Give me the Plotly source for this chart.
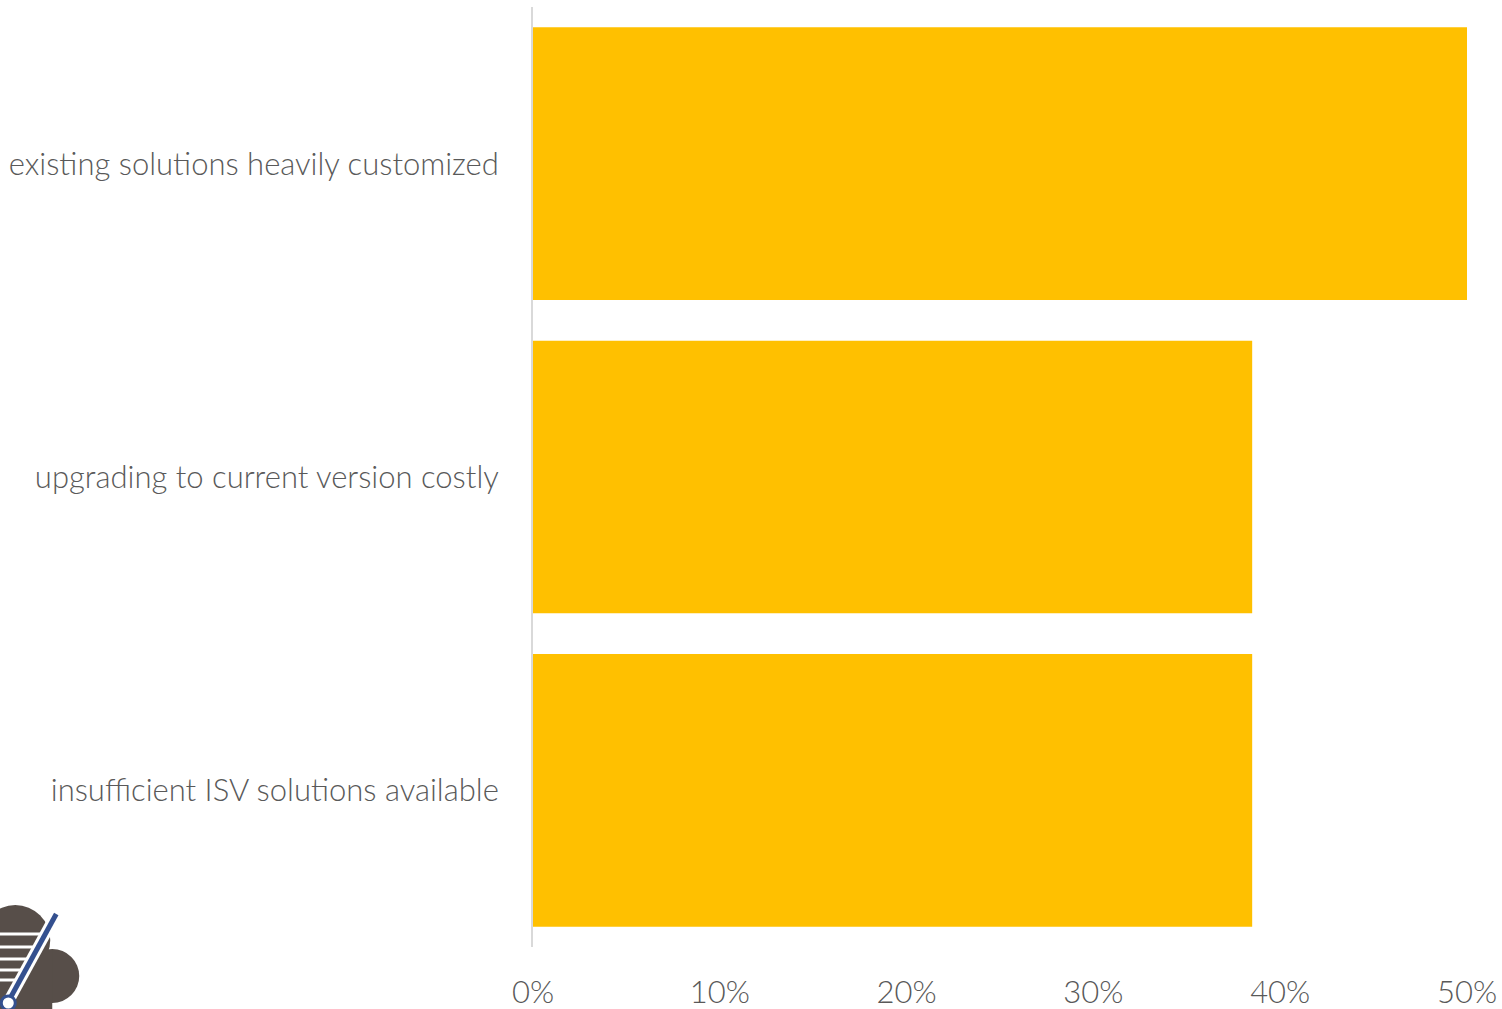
import plotly.graph_objects as go

# Survey responses: reasons for staying on the current solution
categories = [
    "existing solutions heavily customized",
    "upgrading to current version costly",
    "insufficient ISV solutions available",
]
shares = [0.50, 0.385, 0.385]

tick_vals = [0, 0.1, 0.2, 0.3, 0.4, 0.5]
tick_text = ["0%", "10%", "20%", "30%", "40%", "50%"]

W, H = 1502, 1009
L, R, T, B = 533, 34.5, 7, 62

fig = go.Figure(
    go.Bar(
        y=categories,
        x=shares,
        orientation="h",
        marker=dict(color="#FFC000", line=dict(width=0)),
        hoverinfo="skip",
    )
)

label_font = dict(family="Lato, Open Sans, sans-serif", size=31, color="#595959", weight=300)

fig.update_layout(
    width=W,
    height=H,
    margin=dict(l=L, r=R, t=T, b=B),
    paper_bgcolor="white",
    plot_bgcolor="white",
    bargap=0.13,
    showlegend=False,
    xaxis=dict(
        range=[0, 0.5],
        tickvals=tick_vals,
        ticktext=tick_text,
        showgrid=False,
        zeroline=False,
        showline=False,
        ticks="",
        tickfont=label_font,
        ticklabelstandoff=24,
        automargin=False,
    ),
    yaxis=dict(
        categoryorder="array",
        categoryarray=categories[::-1],
        showgrid=False,
        zeroline=False,
        showline=True,
        linecolor="#D9D9D9",
        linewidth=2,
        ticks="",
        tickfont=label_font,
        ticklabelstandoff=26,
        automargin=False,
    ),
)


# Helpers converting pixel positions to paper coordinates for the logo
def px(x):
    return (x - L) / (W - L - R)


def py(y):
    return (H - B - y) / (H - T - B)


shapes = []
cloud = "#574E49"
# cloud lobes
shapes.append(dict(type="circle", xref="paper", yref="paper",
                   x0=px(-20), x1=px(50), y0=py(975), y1=py(905),
                   fillcolor=cloud, line=dict(width=0), layer="above"))
shapes.append(dict(type="circle", xref="paper", yref="paper",
                   x0=px(25), x1=px(79), y0=py(1003), y1=py(949),
                   fillcolor=cloud, line=dict(width=0), layer="above"))
shapes.append(dict(type="rect", xref="paper", yref="paper",
                   x0=px(-5), x1=px(52), y0=py(1012), y1=py(950),
                   fillcolor=cloud, line=dict(width=0), layer="above"))
# white stripes
for yy, xe in [(934, 40), (947, 36), (959, 30), (970, 24), (980, 18)]:
    shapes.append(dict(type="line", xref="paper", yref="paper",
                       x0=px(-2), x1=px(xe), y0=py(yy), y1=py(yy),
                       line=dict(color="white", width=3), layer="above"))
# pen with white outline
shapes.append(dict(type="line", xref="paper", yref="paper",
                   x0=px(56), x1=px(10), y0=py(914), y1=py(998),
                   line=dict(color="white", width=11), layer="above"))
shapes.append(dict(type="line", xref="paper", yref="paper",
                   x0=px(56), x1=px(10), y0=py(914), y1=py(998),
                   line=dict(color="#34508F", width=5), layer="above"))
shapes.append(dict(type="circle", xref="paper", yref="paper",
                   x0=px(1), x1=px(15), y0=py(1010), y1=py(996),
                   fillcolor="white", line=dict(color="#34508F", width=3), layer="above"))

fig.update_layout(shapes=shapes)

fig.write_html("out.html")
